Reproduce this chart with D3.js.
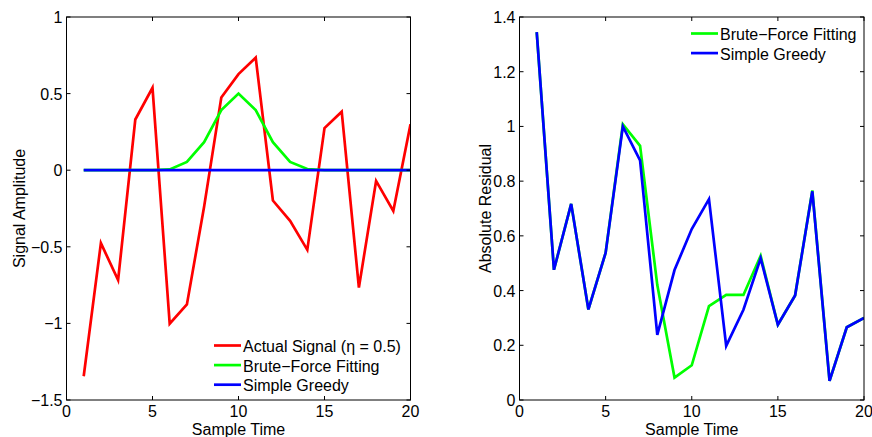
<!DOCTYPE html>
<html><head><meta charset="utf-8">
<script src="https://cdn.jsdelivr.net/npm/d3@7"></script>
<style>
body{margin:0;background:#fff;}
text{font-family:"Liberation Sans",Arial,Helvetica,sans-serif;}
</style></head>
<body><svg id="c" width="872" height="437"></svg>
<script>
// ---- data ----
const sampleTime = d3.range(1, 21);
const actualSignal = [-1.345, -0.476, -0.717, 0.331, 0.538, -1.002, -0.876, -0.238, 0.475, 0.627,
                      0.735, -0.198, -0.330, -0.520, 0.275, 0.382, -0.766, -0.070, -0.266, 0.300];
const bruteForceFit = [0, 0, 0, 0, 0, 0.005, 0.054, 0.183, 0.392, 0.500,
                       0.392, 0.183, 0.054, 0.008, 0, 0, 0, 0, 0, 0];
const simpleGreedyFit = [0, 0, 0, 0, 0, 0, 0, 0, 0, 0, 0, 0, 0, 0, 0, 0, 0, 0, 0, 0];
const bruteForceResidual = [1.345, 0.476, 0.717, 0.331, 0.538, 1.008, 0.929, 0.420, 0.082, 0.127,
                            0.343, 0.384, 0.384, 0.527, 0.275, 0.382, 0.766, 0.070, 0.266, 0.300];
const simpleGreedyResidual = [1.345, 0.476, 0.717, 0.331, 0.538, 1.000, 0.876, 0.238, 0.475, 0.625,
                              0.734, 0.198, 0.330, 0.518, 0.275, 0.382, 0.763, 0.070, 0.266, 0.300];
const xTicks = [0, 5, 10, 15, 20];
const leftYTicks = [-1.5, -1, -0.5, 0, 0.5, 1];
const rightYTicks = [0, 0.2, 0.4, 0.6, 0.8, 1, 1.2, 1.4];
const leftLegend = ["Actual Signal (\u03B7 = 0.5)", "Brute\u2212Force Fitting", "Simple Greedy"];
const rightLegend = ["Brute\u2212Force Fitting", "Simple Greedy"];
const colors = {red: "#ff0000", green: "#00ff00", blue: "#0000ff"};

const svg = d3.select("#c");
const fmt = v => (v < 0 ? "\u2212" : "") + String(Math.abs(v));
const FS = 16;

function panel(cfg) {
  const {x0, x1, y0, y1, ydom, yticks, ylabel, ylabelX, series, legend, legendPos} = cfg;
  const x = d3.scaleLinear().domain([0, 20]).range([x0, x1]);
  const y = d3.scaleLinear().domain(ydom).range([y1, y0]);
  const g = svg.append("g");
  const clipId = "clip" + Math.round(x0);
  svg.append("clipPath").attr("id", clipId).append("rect")
    .attr("x", x0).attr("y", y0).attr("width", x1 - x0).attr("height", y1 - y0);

  const line = d3.line().x((d, i) => x(sampleTime[i])).y(d => y(d));
  const lg = g.append("g").attr("clip-path", `url(#${clipId})`);
  series.forEach(s => {
    lg.append("path").attr("d", line(s.values)).attr("fill", "none")
      .attr("stroke", s.color).attr("stroke-width", 2.7).attr("stroke-linejoin", "miter");
  });

  const tl = 4;
  const ax = g.append("g").attr("stroke", "#000").attr("stroke-width", 1);
  ax.append("rect").attr("x", x0).attr("y", y0).attr("width", x1 - x0).attr("height", y1 - y0)
    .attr("fill", "none");
  xTicks.forEach(t => {
    ax.append("line").attr("x1", x(t)).attr("x2", x(t)).attr("y1", y1).attr("y2", y1 - tl);
    ax.append("line").attr("x1", x(t)).attr("x2", x(t)).attr("y1", y0).attr("y2", y0 + tl);
    g.append("text").attr("x", x(t)).attr("y", y1 + 16.5).attr("text-anchor", "middle")
      .attr("font-size", FS).text(t);
  });
  yticks.forEach(t => {
    ax.append("line").attr("x1", x0).attr("x2", x0 + tl).attr("y1", y(t)).attr("y2", y(t));
    ax.append("line").attr("x1", x1).attr("x2", x1 - tl).attr("y1", y(t)).attr("y2", y(t));
    g.append("text").attr("x", x0 - 4).attr("y", y(t) + 6).attr("text-anchor", "end")
      .attr("font-size", FS).text(fmt(t));
  });
  g.append("text").attr("x", (x0 + x1) / 2).attr("y", y1 + 34.5).attr("text-anchor", "middle")
    .attr("font-size", FS).text("Sample Time");
  g.append("text").attr("transform", `translate(${ylabelX},${(y0 + y1) / 2}) rotate(-90)`)
    .attr("text-anchor", "middle").attr("font-size", FS).text(ylabel);

  legend.forEach((lab, i) => {
    const ly = legendPos.y + i * 19.6;
    g.append("line").attr("x1", legendPos.x).attr("x2", legendPos.x + 27)
      .attr("y1", ly).attr("y2", ly).attr("stroke", series[i].color).attr("stroke-width", 2.7);
    g.append("text").attr("x", legendPos.x + 29).attr("y", ly + 6.5).attr("font-size", FS).text(lab);
  });
}

panel({
  x0: 66.5, x1: 410.5, y0: 17, y1: 400, ydom: [-1.5, 1], yticks: leftYTicks,
  ylabel: "Signal Amplitude", ylabelX: 25,
  series: [{values: actualSignal, color: colors.red},
           {values: bruteForceFit, color: colors.green},
           {values: simpleGreedyFit, color: colors.blue}],
  legend: leftLegend, legendPos: {x: 214, y: 345.5}
});
panel({
  x0: 519.5, x1: 864, y0: 17, y1: 400, ydom: [0, 1.4], yticks: rightYTicks,
  ylabel: "Absolute Residual", ylabelX: 491,
  series: [{values: bruteForceResidual, color: colors.green},
           {values: simpleGreedyResidual, color: colors.blue}],
  legend: rightLegend, legendPos: {x: 691, y: 33.5}
});
</script></body></html>
